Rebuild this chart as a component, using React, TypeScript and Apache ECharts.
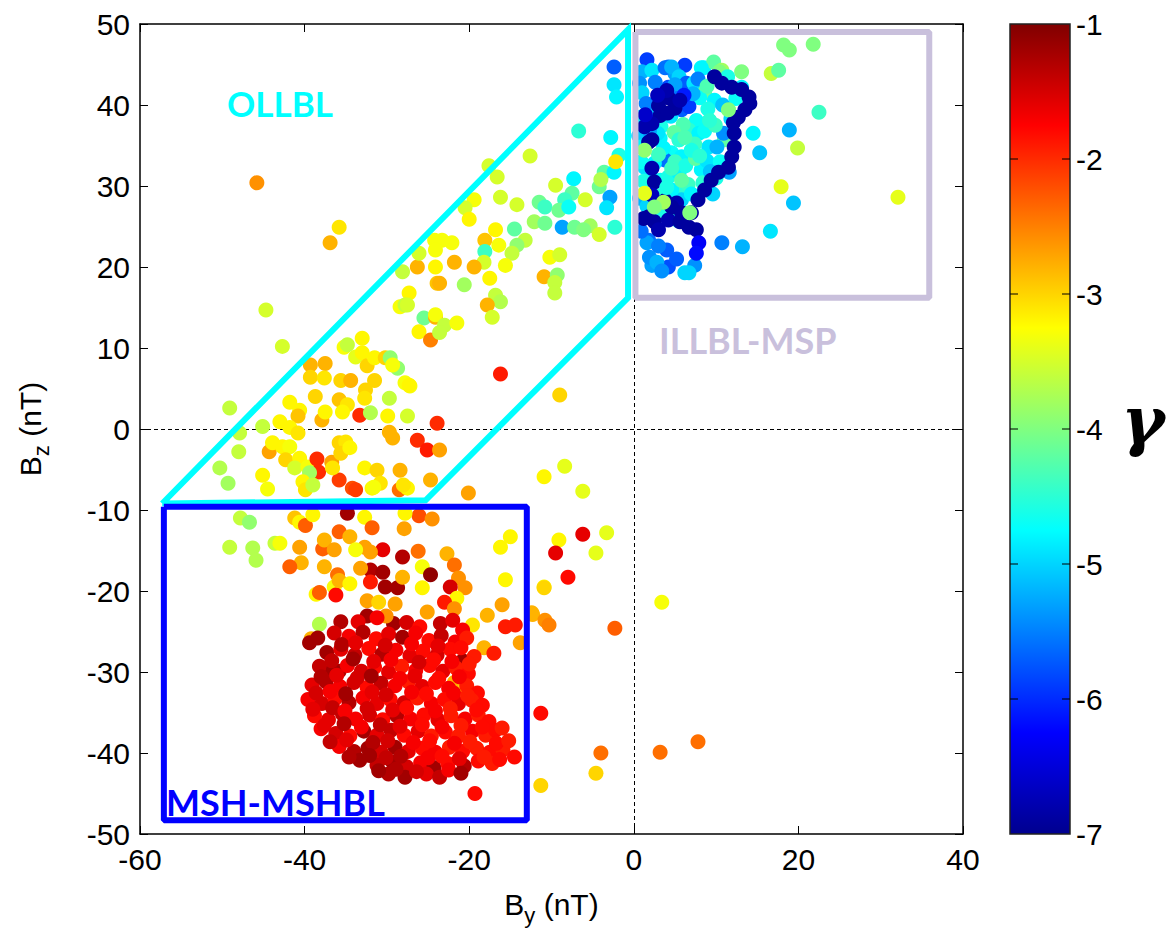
import React, { useEffect, useRef } from "react";
import * as echarts from "echarts";

// Axis ticks
const xTicks = { min: -60, max: 40, interval: 20 };
const yTicks = { min: -50, max: 50, interval: 10 };
const colorTicks = [-1, -2, -3, -4, -5, -6, -7];

// Jet colour map (gamma -7 .. -1)
const jetColors = ["#00008f", "#0000ff", "#0080ff", "#00ffff", "#80ff80", "#ffff00", "#ff8000", "#ff0000", "#800000"];

// [By, Bz, gamma] — OLLBL / outer points (yellow-green)
const ollblPoints: number[][] = [
  [-45.8, 30.4, -2.6], [-35.8, 24.9, -3.1], [-36.9, 23.0, -2.8], [-44.7, 14.7, -3.5], [-42.7, 10.2, -3.5],
  [-49.1, 2.6, -3.6], [-47.9, -0.5, -3.6], [-48.0, -2.8, -3.6], [-50.3, -4.8, -3.7], [-49.3, -6.7, -3.8],
  [-45.1, 0.3, -3.6], [-44.3, -2.8, -2.7], [-45.1, -5.7, -3.2], [-44.5, -7.4, -3.3],
  [-39.3, 7.9, -2.8], [-37.5, 8.1, -2.8], [-39.3, 6.4, -3.0], [-37.6, 6.3, -3.1], [-38.7, 4.0, -3.0],
  [-41.8, 3.3, -3.2], [-40.6, 2.3, -3.2], [-40.8, 1.6, -2.9], [-43.0, 0.9, -3.2], [-41.8, 0.2, -3.2],
  [-40.8, -0.5, -3.1], [-37.9, 1.1, -2.8], [-37.5, 2.1, -3.2], [-35.6, 6.0, -3.0], [-34.4, 6.0, -2.8],
  [-35.2, 10.1, -3.3], [-34.8, 10.4, -3.6], [-33.0, 11.2, -3.2], [-33.8, 8.9, -3.4], [-33.0, 9.4, -3.2],
  [-32.4, 7.8, -3.0], [-31.5, 8.8, -3.2], [-30.2, 8.8, -3.0], [-29.6, 8.8, -3.9], [-28.7, 7.5, -3.9],
  [-29.3, 7.9, -3.3], [-31.5, 6.0, -3.0], [-32.6, 4.8, -3.0], [-32.7, 3.8, -3.1], [-35.8, 3.6, -2.9],
  [-34.8, 3.0, -3.1], [-35.4, 2.1, -3.2], [-33.3, 1.7, -2.0], [-32.0, 2.0, -3.7], [-29.7, 3.8, -3.6],
  [-29.9, 1.6, -3.2], [-27.8, 5.7, -3.3], [-27.2, 5.3, -3.3], [-27.5, 1.6, -3.5], [-29.7, -0.4, -2.8],
  [-29.3, -1.1, -2.8], [-26.3, -1.4, -2.0], [-25.1, -2.6, -1.9], [-23.9, 0.7, -2.0], [-23.6, -2.6, -2.7],
  [-27.3, 16.8, -3.2], [-28.4, 15.1, -3.3], [-27.8, 15.3, -3.6], [-25.5, 13.7, -4.1], [-24.1, 13.8, -2.8],
  [-26.1, 12.0, -3.2], [-24.7, 11.0, -2.5], [-23.9, 18.0, -2.9], [-43.9, -1.7, -3.2], [-42.7, -2.2, -3.2],
  [-41.8, -2.2, -3.3], [-42.3, -3.8, -3.0], [-40.6, -3.6, -3.2], [-41.2, -4.8, -3.5], [-39.6, -4.7, -3.3],
  [-38.5, -3.7, -2.0], [-38.3, -5.3, -2.0], [-39.4, -5.4, -3.8], [-36.7, -4.1, -2.7], [-35.8, -1.7, -3.0],
  [-35.0, -1.6, -3.1], [-35.6, -3.0, -3.0], [-34.5, -2.3, -3.2], [-35.8, -6.3, -2.1], [-36.6, -4.8, -3.1],
  [-34.2, -7.3, -2.2], [-33.8, -7.5, -2.1], [-32.7, -4.8, -3.2], [-31.2, -5.1, -3.0], [-30.8, -6.7, -3.1],
  [-31.8, -7.3, -3.2], [-28.4, -5.1, -2.8], [-28.5, -7.5, -2.4], [-27.5, -7.3, -3.2], [-24.7, -6.3, -2.8],
  [-40.2, -6.5, -3.2], [-39.9, -7.5, -3.1], [-39.0, -6.9, -3.6], [-31.6, -7.2, -3.3], [-28.0, -6.9, -3.1],
  [-12.6, 33.7, -3.5], [-17.6, 32.5, -3.5], [-16.6, 31.1, -3.5], [-19.4, 28.3, -3.3], [-20.5, 27.3, -3.5],
  [-20.0, 25.9, -3.2], [-16.2, 28.6, -3.5], [-14.2, 27.7, -3.5], [-9.5, 30.1, -3.5], [-7.3, 30.9, -4.8],
  [-7.5, 29.1, -4.2], [-8.4, 28.3, -4.4], [-11.5, 28.0, -4.1], [-10.8, 27.4, -4.4], [-9.1, 27.0, -4.1],
  [-7.9, 27.4, -4.7], [-12.1, 25.6, -3.8], [-10.8, 25.4, -4.1], [-8.7, 24.9, -5.3], [-7.2, 24.9, -4.1],
  [-5.9, 28.3, -3.5], [-4.2, 29.9, -4.1], [-3.6, 31.7, -4.2], [-2.9, 28.6, -5.3], [-3.3, 27.3, -4.9],
  [-2.3, 24.9, -4.5], [-5.3, 25.1, -3.8], [-4.2, 24.0, -3.5], [-6.1, 24.6, -4.0], [-1.8, 33.8, -4.6],
  [-2.4, 31.7, -4.8], [-14.5, 24.7, -4.2], [-13.2, 23.3, -3.6], [-14.2, 22.7, -3.9], [-14.8, 21.7, -3.6],
  [-16.8, 24.6, -3.2], [-18.1, 23.3, -2.9], [-16.4, 22.7, -3.3], [-18.1, 21.9, -4.4], [-18.2, 20.6, -3.5],
  [-19.4, 20.0, -2.8], [-15.6, 20.2, -3.3], [-17.5, 18.6, -3.2], [-20.6, 17.8, -3.8], [-23.6, 18.0, -2.8],
  [-21.8, 20.6, -2.8], [-22.1, 23.0, -3.3], [-23.3, 23.3, -3.3], [-24.2, 23.3, -3.3], [-24.1, 22.1, -3.3],
  [-26.3, 20.0, -2.8], [-24.1, 20.0, -3.2], [-16.8, 16.5, -3.6], [-16.2, 15.7, -3.7], [-17.8, 15.3, -2.8],
  [-17.2, 13.8, -3.5], [-10.9, 18.8, -2.8], [-10.2, 21.2, -3.3], [-9.0, 21.5, -3.5], [-9.3, 19.0, -3.9],
  [-9.6, 18.1, -3.6], [-9.6, 16.8, -3.6], [-27.5, 15.3, -3.5], [-24.1, 14.1, -3.3], [-23.0, 12.8, -3.6],
  [-21.5, 13.1, -3.3], [-23.6, 11.9, -3.6], [-16.2, 6.8, -1.9], [-27.3, 5.4, -3.2], [-9.0, 4.2, -3.0],
  [-28.1, 19.4, -3.6], [-26.1, 21.7, -3.5], [-2.4, 44.7, -5.7], [-2.4, 42.5, -4.9], [-2.1, 41.0, -4.8],
  [-2.8, 36.0, -4.8], [-6.7, 36.8, -4.5], [-2.2, 33.0, -3.1], [-4.0, 30.8, -3.7],
];

// [By, Bz, gamma] — points around the MSH region and scattered outliers
const scatteredPoints: number[][] = [
  [-47.8, -11.0, -3.6], [-46.7, -11.5, -3.9], [-49.1, -14.6, -3.6], [-46.3, -14.7, -3.7], [-45.9, -16.2, -3.7],
  [-43.6, -14.1, -3.6], [-43.0, -14.1, -3.3], [-41.2, -11.0, -2.9], [-40.6, -11.5, -3.2], [-39.9, -11.9, -2.3],
  [-39.0, -10.6, -3.2], [-40.6, -14.6, -2.7], [-40.4, -16.5, -2.8], [-41.8, -17.0, -2.3], [-37.8, -14.8, -2.3],
  [-37.6, -13.7, -2.8], [-36.4, -14.9, -2.7], [-35.8, -12.7, -2.3], [-37.6, -17.0, -2.8], [-36.0, -18.0, -2.4],
  [-38.6, -20.4, -3.2], [-38.2, -20.2, -2.3], [-36.4, -19.5, -3.3], [-36.2, -20.5, -1.8], [-38.2, -24.1, -3.7],
  [-39.2, -25.9, -2.8], [-39.4, -26.4, -1.2], [-38.4, -25.8, -1.2], [-35.6, -23.8, -1.3], [-37.2, -30.1, -1.2],
  [-35.8, -29.9, -1.3],
  [-34.8, -10.4, -1.2], [-34.5, -13.3, -2.8], [-32.7, -10.9, -3.2], [-31.8, -12.2, -2.3], [-30.5, -14.9, -1.6],
  [-32.7, -14.6, -2.7], [-32.0, -15.2, -2.7], [-33.8, -14.9, -3.3], [-28.1, -15.8, -1.3], [-27.9, -12.3, -2.7],
  [-26.1, -10.7, -2.2], [-24.5, -11.1, -2.6], [-26.2, -15.1, -2.4], [-27.8, -10.4, -3.2], [-32.0, -17.4, -1.3],
  [-32.0, -18.9, -1.9], [-33.2, -17.2, -2.7], [-30.2, -19.5, -1.2], [-28.7, -19.6, -1.2], [-28.1, -18.3, -2.8],
  [-25.7, -17.0, -3.3], [-24.7, -18.0, -1.1], [-22.7, -15.4, -2.8], [-21.8, -16.8, -2.4], [-21.3, -18.4, -2.6],
  [-20.5, -19.6, -2.6], [-22.3, -19.5, -1.5], [-25.7, -19.6, -3.2], [-21.5, -20.9, -3.2], [-23.0, -21.4, -1.9],
  [-25.1, -22.6, -2.7], [-21.8, -22.2, -2.6], [-23.5, -24.0, -1.4], [-19.6, -24.2, -3.1], [-17.8, -23.0, -2.8],
  [-16.0, -21.7, -2.7], [-15.6, -24.4, -1.9], [-14.4, -24.2, -1.9], [-18.2, -27.0, -2.8], [-17.0, -27.7, -1.9],
  [-16.2, -14.6, -3.2], [-15.0, -13.3, -3.2], [-15.6, -18.6, -3.2], [-20.1, -7.9, -2.7], [-30.5, -17.7, -1.2],
  [-35.8, -18.7, -2.8], [-34.5, -19.1, -3.2], [-32.4, -21.2, -2.7], [-31.0, -21.4, -3.0], [-29.0, -21.6, -2.7],
  [-32.4, -23.1, -1.2], [-29.2, -24.0, -1.2], [-30.1, -23.1, -2.6], [-13.8, -26.4, -2.7], [-12.4, -22.7, -2.8],
  [-10.9, -19.5, -3.2],
  [-10.9, -5.9, -3.2], [-8.4, -4.6, -3.4], [-6.2, -7.7, -3.4], [-9.1, -13.7, -3.2], [-6.2, -13.0, -1.6],
  [-9.5, -15.3, -1.6], [-3.3, -12.8, -3.4], [-4.6, -15.3, -3.4], [-8.0, -18.3, -1.8], [-10.9, -19.6, -3.0],
  [-12.3, -22.9, -2.8], [-10.8, -23.6, -2.6], [-10.3, -24.2, -2.5], [-2.3, -24.6, -2.3], [3.4, -21.4, -3.3],
  [-11.3, -35.1, -1.8], [-4.0, -40.0, -2.4], [-4.6, -42.5, -3.0], [3.2, -39.9, -2.4], [7.8, -38.6, -2.4],
  [-11.3, -44.0, -3.0], [-19.3, -45.0, -1.8], [-21.8, -31.3, -2.8], [-20.6, -32.2, -3.0],
];

// [By, Bz, gamma] — dense MSH-MSHBL cluster (dark red)
const mshPoints: number[][] = [
  [-33.5, -23.8, -1.6], [-31.2, -23.3, -1.7], [-27.6, -23.9, -1.5], [-26.0, -24.4, -1.8], [-22.0, -23.6, -1.6],
  [-20.8, -24.8, -1.7],
  [-36.4, -25.2, -1.5], [-34.6, -25.6, -1.7], [-32.9, -25.1, -1.3], [-31.3, -25.9, -1.8], [-29.8, -25.3, -1.6],
  [-28.1, -25.7, -1.2], [-26.5, -25.2, -1.7], [-24.9, -26.1, -1.8], [-23.4, -25.5, -1.4], [-21.7, -26.3, -1.7],
  [-20.3, -25.8, -1.9],
  [-37.3, -27.6, -1.2], [-35.6, -27.2, -1.6], [-33.9, -27.9, -1.4], [-32.2, -27.1, -1.8], [-30.6, -27.8, -1.3],
  [-28.9, -27.3, -1.7], [-27.2, -28.0, -1.6], [-25.6, -27.4, -1.8], [-23.9, -27.9, -1.5], [-22.3, -27.2, -1.8],
  [-20.8, -28.6, -1.2], [-19.4, -28.1, -1.9],
  [-38.2, -29.3, -1.4], [-36.5, -29.8, -1.2], [-34.8, -29.2, -1.7], [-33.1, -29.9, -1.5], [-31.5, -29.4, -1.8],
  [-29.8, -30.0, -1.6], [-28.2, -29.3, -1.9], [-26.5, -29.8, -1.7], [-24.8, -29.2, -1.8], [-23.2, -29.9, -1.6],
  [-21.6, -29.5, -1.9], [-20.1, -30.2, -1.8],
  [-39.1, -31.6, -1.6], [-37.4, -31.2, -1.3], [-35.7, -31.8, -1.7], [-34.0, -31.3, -1.5], [-32.4, -31.9, -1.8],
  [-30.7, -31.4, -1.4], [-29.0, -31.7, -1.7], [-27.4, -31.2, -1.9], [-25.7, -31.8, -1.6], [-24.1, -31.3, -1.8],
  [-22.5, -32.0, -1.7], [-20.3, -31.7, -1.9], [-19.0, -32.6, -1.8],
  [-39.6, -33.4, -1.7], [-37.9, -33.9, -1.5], [-36.3, -33.3, -1.8], [-34.6, -33.8, -1.3], [-32.9, -33.2, -1.7],
  [-31.2, -33.9, -1.6], [-29.6, -33.4, -1.8], [-27.9, -33.8, -1.5], [-26.3, -33.2, -1.9], [-24.6, -33.9, -1.7],
  [-23.0, -33.4, -1.8], [-21.3, -33.9, -1.6], [-19.7, -33.5, -1.9], [-18.4, -34.1, -1.8],
  [-38.8, -35.4, -1.8], [-37.1, -35.9, -1.6], [-35.4, -35.2, -1.4], [-33.8, -35.8, -1.7], [-32.1, -35.3, -1.5],
  [-30.5, -35.9, -1.8], [-28.8, -35.4, -1.3], [-27.1, -35.8, -1.7], [-25.5, -35.3, -1.8], [-23.8, -35.9, -1.6],
  [-22.2, -35.4, -1.9], [-20.5, -35.8, -1.7], [-18.9, -35.3, -1.9], [-17.6, -36.1, -1.8],
  [-38.0, -37.0, -1.7], [-36.2, -37.6, -1.5], [-34.5, -37.9, -1.8], [-32.8, -37.3, -1.2], [-31.2, -37.8, -1.6],
  [-29.5, -37.2, -1.4], [-27.9, -37.8, -1.8], [-26.2, -37.3, -1.6], [-24.6, -37.9, -1.9], [-22.9, -37.4, -1.8],
  [-21.3, -37.9, -1.9], [-19.6, -37.3, -1.7], [-18.0, -37.8, -1.9], [-16.8, -37.2, -1.8],
  [-35.8, -39.2, -1.7], [-34.0, -39.8, -1.3], [-32.3, -39.4, -1.2], [-30.7, -39.9, -1.5], [-29.0, -39.3, -1.2],
  [-27.4, -39.8, -1.6], [-25.7, -39.4, -1.8], [-24.1, -39.9, -1.7], [-22.4, -39.3, -1.9], [-20.8, -39.8, -1.8],
  [-19.1, -39.4, -1.9], [-17.5, -39.9, -1.8], [-15.9, -39.6, -1.9], [-14.5, -40.5, -1.8],
  [-33.3, -40.9, -1.2], [-31.2, -41.5, -1.4], [-29.3, -41.1, -1.2], [-27.6, -41.7, -1.5], [-25.9, -41.2, -1.7],
  [-24.3, -41.8, -1.2], [-22.6, -41.3, -1.8], [-20.6, -41.6, -1.3], [-18.9, -41.0, -1.8], [-17.2, -41.3, -1.9],
  [-29.8, -42.6, -1.3], [-27.8, -43.0, -1.2], [-25.2, -42.6, -1.6], [-23.6, -43.0, -1.4],
];

// [By, Bz, gamma] — extra points filling the gaps of the dense MSH cluster
const mshFillPoints: number[][] = [
  [-35.5, -26.6, -1.3], [-33.8, -26.4, -1.6], [-30.2, -26.7, -1.5], [-27.0, -26.5, -1.7], [-23.8, -26.8, -1.6],
  [-21.0, -27.0, -1.8],
  [-36.7, -28.6, -1.4], [-34.1, -28.4, -1.2], [-31.6, -28.7, -1.6], [-29.5, -28.5, -1.7], [-26.1, -28.8, -1.5],
  [-24.3, -28.5, -1.8], [-22.1, -28.7, -1.7], [-20.0, -29.0, -1.9],
  [-38.0, -30.6, -1.3], [-36.1, -30.4, -1.6], [-33.6, -30.7, -1.5], [-31.9, -30.5, -1.2], [-28.4, -30.8, -1.7],
  [-26.6, -30.5, -1.6], [-23.7, -30.8, -1.8], [-21.2, -30.6, -1.7],
  [-38.6, -32.6, -1.5], [-36.9, -32.4, -1.7], [-35.0, -32.7, -1.2], [-31.8, -32.5, -1.6], [-30.1, -32.8, -1.5],
  [-27.0, -32.5, -1.7], [-25.2, -32.7, -1.8], [-21.9, -32.6, -1.7], [-20.2, -32.9, -1.9],
  [-39.0, -34.6, -1.6], [-36.6, -34.4, -1.4], [-35.1, -34.8, -1.7], [-32.4, -34.5, -1.5], [-29.3, -34.7, -1.6],
  [-27.6, -34.4, -1.8], [-24.1, -34.8, -1.7], [-22.3, -34.5, -1.9], [-19.1, -34.7, -1.8],
  [-37.6, -36.6, -1.6], [-35.2, -36.4, -1.3], [-33.1, -36.8, -1.7], [-30.8, -36.5, -1.4], [-28.4, -36.7, -1.6],
  [-25.7, -36.5, -1.8], [-23.3, -36.8, -1.7], [-21.0, -36.6, -1.9], [-18.4, -36.8, -1.8], [-16.0, -36.9, -1.9],
  [-36.9, -38.6, -1.4], [-34.9, -38.4, -1.6], [-31.7, -38.7, -1.3], [-29.9, -38.5, -1.5], [-26.8, -38.7, -1.7],
  [-24.8, -38.5, -1.8], [-21.8, -38.8, -1.7], [-19.9, -38.6, -1.9], [-16.7, -38.8, -1.8], [-15.2, -38.5, -1.9],
  [-34.6, -40.5, -1.3], [-32.1, -40.3, -1.2], [-30.1, -40.6, -1.4], [-28.3, -40.4, -1.3], [-25.0, -40.6, -1.7],
  [-23.3, -40.4, -1.8], [-21.2, -40.7, -1.6], [-18.2, -40.5, -1.9], [-16.3, -40.8, -1.8],
  [-31.0, -42.2, -1.2], [-28.9, -42.0, -1.3], [-26.4, -42.3, -1.5], [-22.5, -42.1, -1.7], [-21.0, -42.5, -1.2],
];

// [By, Bz, gamma] — ILLBL-MSP cluster (cyan / blue)
const mspPoints: number[][] = [
  [1.6, 45.6, -5.9], [1.0, 44.1, -5.2], [2.2, 44.3, -4.9], [4.2, 44.7, -5.6], [6.2, 44.9, -5.9],
  [5.0, 43.9, -5.3], [8.5, 44.6, -4.8], [9.7, 45.3, -4.2], [10.7, 44.3, -3.8], [13.1, 44.1, -4.0],
  [16.7, 43.9, -3.6], [17.6, 44.3, -4.2], [18.2, 47.4, -4.0], [18.9, 46.8, -4.0], [21.8, 47.5, -4.0],
  [22.5, 39.1, -4.4], [18.9, 36.9, -5.2], [19.9, 34.7, -3.6], [14.5, 36.5, -4.8], [15.3, 34.1, -5.1],
  [17.9, 29.9, -3.4], [19.4, 27.9, -5.1], [32.1, 28.6, -3.4], [16.6, 24.4, -4.9], [13.2, 22.5, -5.2],
  [10.7, 23.0, -5.5], [6.2, 19.3, -5.0], [7.4, 20.2, -5.4], [4.2, 20.0, -5.8], [2.2, 20.2, -5.3],
  [1.9, 21.2, -5.4], [4.0, 22.1, -5.7], [1.8, 23.3, -5.6], [1.6, 23.0, -5.3], [2.8, 20.6, -5.2],
  [0.7, 42.7, -5.4], [1.0, 41.5, -5.0], [3.8, 44.6, -5.6], [4.6, 44.7, -5.2], [5.5, 43.5, -5.0],
  [6.4, 42.7, -5.7], [7.3, 42.7, -4.9], [8.2, 44.6, -4.8], [10.4, 44.1, -4.0], [8.6, 41.5, -4.1],
  [8.0, 40.9, -4.7], [9.8, 40.6, -4.8], [11.5, 39.4, -4.0], [11.0, 35.7, -4.2], [9.2, 38.1, -4.5],
  [7.6, 38.1, -4.7], [6.7, 36.9, -4.5], [7.9, 36.5, -4.8], [9.1, 34.8, -4.9], [10.1, 34.8, -5.2],
  [5.5, 35.7, -4.5], [4.6, 34.1, -4.7], [3.8, 33.2, -5.6], [5.8, 33.6, -4.8], [7.0, 34.4, -4.6],
  [1.3, 32.3, -4.9], [2.5, 32.8, -4.8], [3.6, 34.7, -4.8], [3.2, 30.7, -4.7], [4.2, 31.1, -4.6],
  [5.5, 31.6, -4.8], [5.6, 29.1, -4.5], [5.8, 28.3, -5.0], [8.2, 32.0, -4.8], [11.6, 31.7, -5.3],
  [3.2, 35.9, -4.8], [5.8, 39.4, -5.7], [6.7, 39.8, -5.9], [4.2, 42.2, -5.8], [5.0, 42.5, -5.3],
  [2.5, 38.1, -6.0], [10.9, 36.5, -5.4], [13.1, 42.2, -4.8], [6.7, 19.3, -5.0],
  [0.8, 38.5, -4.9], [0.6, 36.2, -5.1], [0.9, 33.0, -4.7], [2.0, 31.0, -4.9], [1.2, 30.6, -4.6],
  [0.7, 28.5, -5.2], [2.4, 39.7, -5.1], [3.3, 37.3, -4.6], [4.5, 38.6, -4.9], [6.0, 37.6, -4.3],
  [7.4, 35.2, -4.4], [8.6, 36.8, -4.7], [9.9, 37.5, -4.4], [4.9, 36.6, -4.2], [2.9, 36.5, -4.9],
  [3.0, 33.9, -4.4], [5.0, 33.0, -4.4], [6.3, 32.5, -4.6], [7.5, 33.4, -4.2], [8.9, 33.1, -4.9],
  [6.6, 30.2, -4.4], [4.6, 29.5, -4.8], [3.0, 28.8, -4.5], [2.3, 26.0, -4.9], [4.2, 26.2, -4.4],
  [5.4, 25.7, -4.7], [7.0, 29.0, -4.8], [8.4, 30.4, -4.5], [10.0, 31.0, -4.6],
  [9.6, 29.0, -5.0], [11.8, 38.3, -5.0], [12.4, 40.8, -4.7], [2.6, 42.8, -5.5], [3.4, 41.0, -5.3],
  [7.8, 43.2, -5.5], [8.9, 42.3, -4.3], [11.4, 43.5, -4.6], [5.3, 40.8, -5.6], [1.9, 36.8, -5.3],
  [1.5, 40.2, -5.5], [0.9, 34.8, -4.8], [1.6, 27.5, -5.0], [3.5, 27.0, -4.6], [9.0, 39.5, -4.6],
  [10.8, 40.0, -5.1], [7.2, 41.4, -5.2], [6.1, 41.2, -6.1], [10.5, 33.0, -4.7], [9.3, 31.8, -5.1],
  [0.9, 24.4, -5.6], [3.0, 22.6, -5.5], [5.2, 21.0, -5.7], [3.4, 19.5, -5.4],
];

// [By, Bz, gamma] — dark blue track inside the MSP cluster
const mspTrackPoints: number[][] = [
  [4.2, 40.9, -6.9], [3.0, 39.9, -6.9], [5.0, 39.6, -6.9], [3.2, 38.7, -6.9], [2.2, 37.7, -6.8],
  [4.0, 41.8, -6.8], [1.3, 37.3, -6.8], [2.2, 35.7, -6.9], [1.8, 35.4, -6.9], [2.2, 32.2, -6.8],
  [4.1, 39.0, -6.9], [5.6, 40.6, -6.8], [2.9, 41.2, -6.7], [1.4, 38.8, -6.6],
  [2.5, 30.5, -6.9], [2.2, 28.9, -6.7], [1.2, 26.0, -6.9], [1.8, 26.2, -6.9], [2.5, 25.6, -6.9],
  [4.2, 25.8, -6.8], [5.6, 25.6, -6.9], [6.7, 24.9, -6.9], [7.6, 24.6, -6.9], [7.9, 23.0, -6.3],
  [7.6, 21.7, -6.2], [3.0, 24.6, -6.8], [3.8, 28.2, -6.9], [5.2, 27.9, -6.8],
  [4.6, 27.4, -6.9], [5.8, 26.7, -6.9], [7.0, 26.7, -6.9], [7.8, 28.3, -6.9], [8.6, 29.5, -6.9],
  [9.4, 30.7, -6.9], [10.3, 31.7, -6.9], [11.5, 32.3, -6.9], [11.9, 33.6, -6.9], [12.2, 34.8, -6.9],
  [12.2, 36.5, -6.9], [12.1, 37.8, -6.9], [12.7, 38.5, -6.9], [13.5, 39.4, -6.9], [14.1, 40.2, -6.9],
  [14.0, 41.0, -6.9], [13.1, 41.9, -6.9], [11.9, 42.2, -6.9], [10.7, 42.7, -6.9], [9.8, 43.5, -6.9],
];

// [By, Bz, gamma] — greenish points lying on top of the MSP cluster
const mspTopPoints: number[][] = [
  [5.8, 30.7, -4.2], [3.6, 28.0, -3.8], [1.3, 29.1, -3.4], [6.8, 26.7, -4.0], [2.5, 27.4, -4.0],
  [1.3, 34.4, -3.9], [11.5, 39.4, -4.0], [7.0, 34.4, -4.6], [9.2, 38.1, -4.5], [5.5, 35.7, -4.5],
  [4.6, 32.2, -4.4], [6.2, 36.0, -4.3], [8.0, 33.7, -4.5], [4.0, 29.8, -4.6],
];

// Region outlines, in data coordinates
const ollblOutline = [[-57.3, -9.2], [-0.7, 49.3], [-0.7, 16.2], [-25.3, -8.8], [-57.3, -9.2]];
const illblOutline = [[0.2, 49.0], [35.9, 49.0], [35.9, 16.2], [0.2, 16.2], [0.2, 49.0]];
const mshOutline = [[-57.1, -9.6], [-13.0, -9.6], [-13.0, -48.3], [-57.1, -48.3], [-57.1, -9.6]];

const GRID = { left: 138, top: 24, width: 825, height: 810 };
const CBAR = { x: 1010, y: 24, w: 60, h: 810 };

export default function App() {
  const ref = useRef<HTMLDivElement>(null);
  useEffect(() => {
    if (!ref.current) return;
    const chart = echarts.init(ref.current, null, { renderer: "svg" });
    const allPoints = [
      ...ollblPoints,
      ...scatteredPoints,
      ...mshPoints,
      ...mshFillPoints,
      ...mspPoints,
      ...mspTrackPoints,
      ...mspTopPoints,
    ];
    const font = "Liberation Sans";
    const axisLabel = { fontSize: 30, color: "#000", fontFamily: font };
    const cbarGraphics: any[] = [
      {
        type: "rect",
        shape: { x: CBAR.x, y: CBAR.y, width: CBAR.w, height: CBAR.h },
        style: {
          fill: {
            type: "linear", x: 0, y: 1, x2: 0, y2: 0,
            colorStops: jetColors.map((c, i) => ({ offset: i / (jetColors.length - 1), color: c })),
          },
          stroke: "#222", lineWidth: 1.5,
        },
      },
    ];
    colorTicks.forEach((v) => {
      const y = CBAR.y + ((-1 - v) / 6) * CBAR.h;
      if (v !== -1 && v !== -7) {
        cbarGraphics.push({ type: "line", shape: { x1: CBAR.x, y1: y, x2: CBAR.x + 8, y2: y }, style: { stroke: "#000", lineWidth: 1 } });
        cbarGraphics.push({ type: "line", shape: { x1: CBAR.x + CBAR.w - 8, y1: y, x2: CBAR.x + CBAR.w, y2: y }, style: { stroke: "#000", lineWidth: 1 } });
      }
      cbarGraphics.push({
        type: "text", x: CBAR.x + CBAR.w + 6, y,
        style: { text: String(v), fontSize: 30, fontFamily: font, fill: "#000", textVerticalAlign: "middle", textAlign: "left" },
      });
    });
    const option: any = {
      animation: false,
      backgroundColor: "#fff",
      grid: { ...GRID, show: false },
      visualMap: {
        type: "continuous", show: false, min: -7, max: -1, dimension: 2, seriesIndex: 0,
        inRange: { color: jetColors },
      },
      xAxis: [
        {
          type: "value", ...xTicks, position: "bottom",
          axisLine: { show: true, onZero: false, lineStyle: { color: "#000", width: 1.5 } },
          axisTick: { show: true, inside: true, length: 8, lineStyle: { color: "#000" } },
          axisLabel: { ...axisLabel, margin: 10 },
          splitLine: { show: false },
          name: "{b|B}{s|y}{b| (nT)}", nameLocation: "middle", nameGap: 52,
          nameTextStyle: {
            rich: {
              b: { fontSize: 30, fontFamily: font, color: "#000", lineHeight: 36 },
              s: { fontSize: 22, fontFamily: font, color: "#000", lineHeight: 36, padding: [22, 0, 0, 0] },
            },
          },
        },
        {
          type: "value", ...xTicks, position: "top",
          axisLine: { show: true, onZero: false, lineStyle: { color: "#000", width: 1.5 } },
          axisTick: { show: true, inside: true, length: 8, lineStyle: { color: "#000" } },
          axisLabel: { show: false }, splitLine: { show: false },
        },
      ],
      yAxis: [
        {
          type: "value", ...yTicks, position: "left",
          axisLine: { show: true, onZero: false, lineStyle: { color: "#000", width: 1.5 } },
          axisTick: { show: true, inside: true, length: 8, lineStyle: { color: "#000" } },
          axisLabel: { ...axisLabel, margin: 10 },
          splitLine: { show: false },
          name: "{b|B}{s|z}{b| (nT)}", nameLocation: "middle", nameGap: 92, nameRotate: 90,
          nameTextStyle: {
            rich: {
              b: { fontSize: 30, fontFamily: font, color: "#000", lineHeight: 36 },
              s: { fontSize: 22, fontFamily: font, color: "#000", lineHeight: 36, padding: [22, 0, 0, 0] },
            },
          },
        },
        {
          type: "value", ...yTicks, position: "right",
          axisLine: { show: true, onZero: false, lineStyle: { color: "#000", width: 1.5 } },
          axisTick: { show: true, inside: true, length: 8, lineStyle: { color: "#000" } },
          axisLabel: { show: false }, splitLine: { show: false },
        },
      ],
      series: [
        {
          type: "scatter",
          data: allPoints,
          symbol: "circle",
          symbolSize: 15,
          itemStyle: { opacity: 1 },
          z: 2,
          markLine: {
            silent: true, symbol: "none", animation: false,
            label: { show: false },
            lineStyle: { type: [4, 3], color: "#000", width: 1 },
            data: [{ xAxis: 0 }, { yAxis: 0 }],
            z: 1,
          },
        },
        {
          type: "line", data: ollblOutline, symbol: "none", z: 5,
          lineStyle: { color: "#00ffff", width: 6, join: "miter" },
        },
        {
          type: "line", data: illblOutline, symbol: "none", z: 5,
          lineStyle: { color: "#c9c0dc", width: 6 },
        },
        {
          type: "line", data: mshOutline, symbol: "none", z: 5,
          lineStyle: { color: "#0000ff", width: 6 },
        },
      ],
      graphic: [
        ...cbarGraphics,
        {
          type: "text", x: 1143, y: 420,
          style: { text: "γ", font: "italic bold 66px 'DejaVu Serif'", fill: "#000", textAlign: "center", textVerticalAlign: "middle" },
        },
        {
          type: "text", x: 227, y: 103,
          style: { text: "OLLBL", font: "bold 35px Lato", fill: "#00ffff", textVerticalAlign: "middle" },
        },
        {
          type: "text", x: 659, y: 340,
          style: { text: "ILLBL-MSP", font: "bold 36px Lato", fill: "#c9c0dc", textVerticalAlign: "middle" },
        },
        {
          type: "text", x: 166, y: 802,
          style: { text: "MSH-MSHBL", font: "bold 36px Lato", fill: "#0000ff", textVerticalAlign: "middle" },
        },
      ],
    };
    chart.setOption(option);
    return () => chart.dispose();
  }, []);
  return <div ref={ref} style={{ position: "absolute", left: 0, top: 0, width: 1175, height: 945 }} />;
}
